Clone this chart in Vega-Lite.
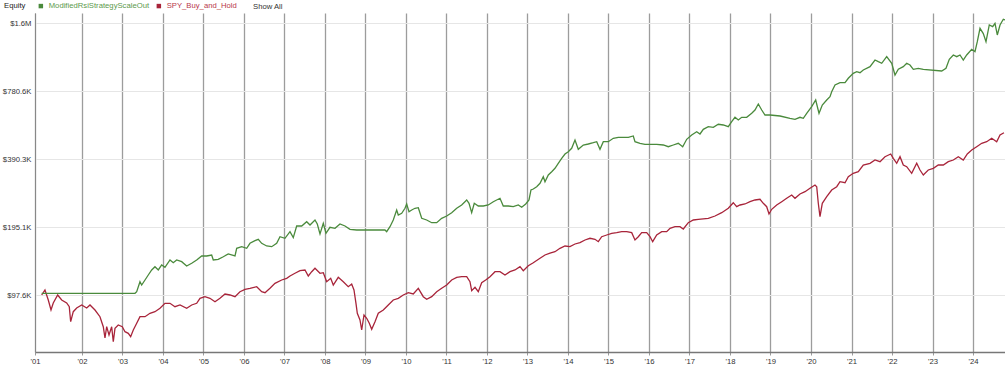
{
  "$schema": "https://vega.github.io/schema/vega-lite/v6.json",
  "width": 970,
  "height": 339,
  "autosize": {"type": "none"},
  "padding": {"left": 35, "top": 13, "right": 0, "bottom": 16},
  "background": "white",
  "config": {
    "font": "Liberation Sans",
    "view": {"stroke": null},
    "title": {"font": "Liberation Sans"},
    "legend": {"labelFont": "Liberation Sans", "titleFont": "Liberation Sans"}
  },
  "title": {
    "text": "Show All",
    "anchor": "start",
    "frame": "group",
    "dx": 218,
    "dy": 12,
    "offset": 3,
    "fontSize": 7.7,
    "fontWeight": "normal",
    "color": "#333333"
  },
  "data": {
    "values": [
      {"series": "SPY_Buy_and_Hold", "year": 2001.005, "equity": 98070},
      {"series": "SPY_Buy_and_Hold", "year": 2001.086, "equity": 103200},
      {"series": "SPY_Buy_and_Hold", "year": 2001.168, "equity": 93200},
      {"series": "SPY_Buy_and_Hold", "year": 2001.235, "equity": 84170},
      {"series": "SPY_Buy_and_Hold", "year": 2001.291, "equity": 90390},
      {"series": "SPY_Buy_and_Hold", "year": 2001.4, "equity": 98070},
      {"series": "SPY_Buy_and_Hold", "year": 2001.499, "equity": 93200},
      {"series": "SPY_Buy_and_Hold", "year": 2001.622, "equity": 90390},
      {"series": "SPY_Buy_and_Hold", "year": 2001.686, "equity": 87040},
      {"series": "SPY_Buy_and_Hold", "year": 2001.721, "equity": 74700},
      {"series": "SPY_Buy_and_Hold", "year": 2001.785, "equity": 82720},
      {"series": "SPY_Buy_and_Hold", "year": 2001.869, "equity": 85900},
      {"series": "SPY_Buy_and_Hold", "year": 2001.993, "equity": 88570},
      {"series": "SPY_Buy_and_Hold", "year": 2002.116, "equity": 85900},
      {"series": "SPY_Buy_and_Hold", "year": 2002.198, "equity": 88570},
      {"series": "SPY_Buy_and_Hold", "year": 2002.321, "equity": 84170},
      {"series": "SPY_Buy_and_Hold", "year": 2002.444, "equity": 78610},
      {"series": "SPY_Buy_and_Hold", "year": 2002.526, "equity": 70990},
      {"series": "SPY_Buy_and_Hold", "year": 2002.568, "equity": 63270},
      {"series": "SPY_Buy_and_Hold", "year": 2002.61, "equity": 70990},
      {"series": "SPY_Buy_and_Hold", "year": 2002.667, "equity": 65230},
      {"series": "SPY_Buy_and_Hold", "year": 2002.733, "equity": 70990},
      {"series": "SPY_Buy_and_Hold", "year": 2002.773, "equity": 60930},
      {"series": "SPY_Buy_and_Hold", "year": 2002.815, "equity": 69840},
      {"series": "SPY_Buy_and_Hold", "year": 2002.896, "equity": 72230},
      {"series": "SPY_Buy_and_Hold", "year": 2002.995, "equity": 70990},
      {"series": "SPY_Buy_and_Hold", "year": 2003.062, "equity": 67460},
      {"series": "SPY_Buy_and_Hold", "year": 2003.143, "equity": 66370},
      {"series": "SPY_Buy_and_Hold", "year": 2003.202, "equity": 64110},
      {"series": "SPY_Buy_and_Hold", "year": 2003.267, "equity": 68640},
      {"series": "SPY_Buy_and_Hold", "year": 2003.351, "equity": 73490},
      {"series": "SPY_Buy_and_Hold", "year": 2003.432, "equity": 78610},
      {"series": "SPY_Buy_and_Hold", "year": 2003.556, "equity": 78610},
      {"series": "SPY_Buy_and_Hold", "year": 2003.679, "equity": 81380},
      {"series": "SPY_Buy_and_Hold", "year": 2003.802, "equity": 82720},
      {"series": "SPY_Buy_and_Hold", "year": 2003.926, "equity": 85630},
      {"series": "SPY_Buy_and_Hold", "year": 2004.049, "equity": 90110},
      {"series": "SPY_Buy_and_Hold", "year": 2004.173, "equity": 90110},
      {"series": "SPY_Buy_and_Hold", "year": 2004.296, "equity": 87040},
      {"series": "SPY_Buy_and_Hold", "year": 2004.42, "equity": 88570},
      {"series": "SPY_Buy_and_Hold", "year": 2004.585, "equity": 85630},
      {"series": "SPY_Buy_and_Hold", "year": 2004.709, "equity": 88570},
      {"series": "SPY_Buy_and_Hold", "year": 2004.832, "equity": 90110},
      {"series": "SPY_Buy_and_Hold", "year": 2004.914, "equity": 94830},
      {"series": "SPY_Buy_and_Hold", "year": 2005.037, "equity": 96380},
      {"series": "SPY_Buy_and_Hold", "year": 2005.16, "equity": 94830},
      {"series": "SPY_Buy_and_Hold", "year": 2005.284, "equity": 91590},
      {"series": "SPY_Buy_and_Hold", "year": 2005.407, "equity": 94830},
      {"series": "SPY_Buy_and_Hold", "year": 2005.531, "equity": 99080},
      {"series": "SPY_Buy_and_Hold", "year": 2005.654, "equity": 98070},
      {"series": "SPY_Buy_and_Hold", "year": 2005.778, "equity": 96380},
      {"series": "SPY_Buy_and_Hold", "year": 2005.901, "equity": 101430},
      {"series": "SPY_Buy_and_Hold", "year": 2006.025, "equity": 103930},
      {"series": "SPY_Buy_and_Hold", "year": 2006.148, "equity": 105000},
      {"series": "SPY_Buy_and_Hold", "year": 2006.314, "equity": 106720},
      {"series": "SPY_Buy_and_Hold", "year": 2006.437, "equity": 101430},
      {"series": "SPY_Buy_and_Hold", "year": 2006.519, "equity": 100400},
      {"series": "SPY_Buy_and_Hold", "year": 2006.642, "equity": 105000},
      {"series": "SPY_Buy_and_Hold", "year": 2006.765, "equity": 110490},
      {"series": "SPY_Buy_and_Hold", "year": 2006.931, "equity": 114270},
      {"series": "SPY_Buy_and_Hold", "year": 2007.054, "equity": 116270},
      {"series": "SPY_Buy_and_Hold", "year": 2007.136, "equity": 119030},
      {"series": "SPY_Buy_and_Hold", "year": 2007.259, "equity": 122360},
      {"series": "SPY_Buy_and_Hold", "year": 2007.383, "equity": 125630},
      {"series": "SPY_Buy_and_Hold", "year": 2007.506, "equity": 126540},
      {"series": "SPY_Buy_and_Hold", "year": 2007.588, "equity": 119030},
      {"series": "SPY_Buy_and_Hold", "year": 2007.672, "equity": 124370},
      {"series": "SPY_Buy_and_Hold", "year": 2007.753, "equity": 128750},
      {"series": "SPY_Buy_and_Hold", "year": 2007.877, "equity": 122360},
      {"series": "SPY_Buy_and_Hold", "year": 2007.958, "equity": 123100},
      {"series": "SPY_Buy_and_Hold", "year": 2008.042, "equity": 112310},
      {"series": "SPY_Buy_and_Hold", "year": 2008.141, "equity": 116270},
      {"series": "SPY_Buy_and_Hold", "year": 2008.205, "equity": 108590},
      {"series": "SPY_Buy_and_Hold", "year": 2008.328, "equity": 117450},
      {"series": "SPY_Buy_and_Hold", "year": 2008.452, "equity": 112310},
      {"series": "SPY_Buy_and_Hold", "year": 2008.575, "equity": 106720},
      {"series": "SPY_Buy_and_Hold", "year": 2008.659, "equity": 109700},
      {"series": "SPY_Buy_and_Hold", "year": 2008.716, "equity": 103200},
      {"series": "SPY_Buy_and_Hold", "year": 2008.765, "equity": 90110},
      {"series": "SPY_Buy_and_Hold", "year": 2008.798, "equity": 81380},
      {"series": "SPY_Buy_and_Hold", "year": 2008.864, "equity": 76010},
      {"series": "SPY_Buy_and_Hold", "year": 2008.906, "equity": 68640},
      {"series": "SPY_Buy_and_Hold", "year": 2008.963, "equity": 79980},
      {"series": "SPY_Buy_and_Hold", "year": 2009.03, "equity": 77340},
      {"series": "SPY_Buy_and_Hold", "year": 2009.094, "equity": 73490},
      {"series": "SPY_Buy_and_Hold", "year": 2009.153, "equity": 69130},
      {"series": "SPY_Buy_and_Hold", "year": 2009.235, "equity": 74700},
      {"series": "SPY_Buy_and_Hold", "year": 2009.316, "equity": 81380},
      {"series": "SPY_Buy_and_Hold", "year": 2009.44, "equity": 84170},
      {"series": "SPY_Buy_and_Hold", "year": 2009.563, "equity": 88570},
      {"series": "SPY_Buy_and_Hold", "year": 2009.686, "equity": 93200},
      {"series": "SPY_Buy_and_Hold", "year": 2009.81, "equity": 94830},
      {"series": "SPY_Buy_and_Hold", "year": 2009.933, "equity": 98070},
      {"series": "SPY_Buy_and_Hold", "year": 2010.057, "equity": 100400},
      {"series": "SPY_Buy_and_Hold", "year": 2010.18, "equity": 99080},
      {"series": "SPY_Buy_and_Hold", "year": 2010.304, "equity": 105000},
      {"series": "SPY_Buy_and_Hold", "year": 2010.427, "equity": 96380},
      {"series": "SPY_Buy_and_Hold", "year": 2010.511, "equity": 93870},
      {"series": "SPY_Buy_and_Hold", "year": 2010.635, "equity": 96380},
      {"series": "SPY_Buy_and_Hold", "year": 2010.758, "equity": 101430},
      {"series": "SPY_Buy_and_Hold", "year": 2010.881, "equity": 105000},
      {"series": "SPY_Buy_and_Hold", "year": 2011.005, "equity": 108590},
      {"series": "SPY_Buy_and_Hold", "year": 2011.128, "equity": 114270},
      {"series": "SPY_Buy_and_Hold", "year": 2011.252, "equity": 117450},
      {"series": "SPY_Buy_and_Hold", "year": 2011.375, "equity": 118180},
      {"series": "SPY_Buy_and_Hold", "year": 2011.499, "equity": 118180},
      {"series": "SPY_Buy_and_Hold", "year": 2011.58, "equity": 112310},
      {"series": "SPY_Buy_and_Hold", "year": 2011.622, "equity": 102450},
      {"series": "SPY_Buy_and_Hold", "year": 2011.704, "equity": 106070},
      {"series": "SPY_Buy_and_Hold", "year": 2011.785, "equity": 101430},
      {"series": "SPY_Buy_and_Hold", "year": 2011.869, "equity": 111170},
      {"series": "SPY_Buy_and_Hold", "year": 2011.968, "equity": 114270},
      {"series": "SPY_Buy_and_Hold", "year": 2012.074, "equity": 118180},
      {"series": "SPY_Buy_and_Hold", "year": 2012.198, "equity": 124370},
      {"series": "SPY_Buy_and_Hold", "year": 2012.321, "equity": 124370},
      {"series": "SPY_Buy_and_Hold", "year": 2012.444, "equity": 120260},
      {"series": "SPY_Buy_and_Hold", "year": 2012.568, "equity": 124370},
      {"series": "SPY_Buy_and_Hold", "year": 2012.691, "equity": 126540},
      {"series": "SPY_Buy_and_Hold", "year": 2012.815, "equity": 130870},
      {"series": "SPY_Buy_and_Hold", "year": 2012.896, "equity": 125630},
      {"series": "SPY_Buy_and_Hold", "year": 2013.02, "equity": 132200},
      {"series": "SPY_Buy_and_Hold", "year": 2013.143, "equity": 136310},
      {"series": "SPY_Buy_and_Hold", "year": 2013.309, "equity": 142560},
      {"series": "SPY_Buy_and_Hold", "year": 2013.432, "equity": 147440},
      {"series": "SPY_Buy_and_Hold", "year": 2013.556, "equity": 150320},
      {"series": "SPY_Buy_and_Hold", "year": 2013.679, "equity": 152490},
      {"series": "SPY_Buy_and_Hold", "year": 2013.802, "equity": 157860},
      {"series": "SPY_Buy_and_Hold", "year": 2013.926, "equity": 161610},
      {"series": "SPY_Buy_and_Hold", "year": 2014.049, "equity": 160460},
      {"series": "SPY_Buy_and_Hold", "year": 2014.173, "equity": 164940},
      {"series": "SPY_Buy_and_Hold", "year": 2014.296, "equity": 167130},
      {"series": "SPY_Buy_and_Hold", "year": 2014.42, "equity": 171800},
      {"series": "SPY_Buy_and_Hold", "year": 2014.543, "equity": 174800},
      {"series": "SPY_Buy_and_Hold", "year": 2014.667, "equity": 173010},
      {"series": "SPY_Buy_and_Hold", "year": 2014.748, "equity": 168850},
      {"series": "SPY_Buy_and_Hold", "year": 2014.832, "equity": 177670},
      {"series": "SPY_Buy_and_Hold", "year": 2014.956, "equity": 180780},
      {"series": "SPY_Buy_and_Hold", "year": 2015.079, "equity": 183940},
      {"series": "SPY_Buy_and_Hold", "year": 2015.202, "equity": 185090},
      {"series": "SPY_Buy_and_Hold", "year": 2015.326, "equity": 186970},
      {"series": "SPY_Buy_and_Hold", "year": 2015.449, "equity": 186970},
      {"series": "SPY_Buy_and_Hold", "year": 2015.573, "equity": 185090},
      {"series": "SPY_Buy_and_Hold", "year": 2015.654, "equity": 171800},
      {"series": "SPY_Buy_and_Hold", "year": 2015.736, "equity": 177670},
      {"series": "SPY_Buy_and_Hold", "year": 2015.82, "equity": 185090},
      {"series": "SPY_Buy_and_Hold", "year": 2015.943, "equity": 185090},
      {"series": "SPY_Buy_and_Hold", "year": 2016.025, "equity": 177670},
      {"series": "SPY_Buy_and_Hold", "year": 2016.091, "equity": 168850},
      {"series": "SPY_Buy_and_Hold", "year": 2016.19, "equity": 180780},
      {"series": "SPY_Buy_and_Hold", "year": 2016.314, "equity": 186970},
      {"series": "SPY_Buy_and_Hold", "year": 2016.437, "equity": 186970},
      {"series": "SPY_Buy_and_Hold", "year": 2016.519, "equity": 193550},
      {"series": "SPY_Buy_and_Hold", "year": 2016.642, "equity": 196740},
      {"series": "SPY_Buy_and_Hold", "year": 2016.765, "equity": 196740},
      {"series": "SPY_Buy_and_Hold", "year": 2016.847, "equity": 192180},
      {"series": "SPY_Buy_and_Hold", "year": 2016.97, "equity": 204920},
      {"series": "SPY_Buy_and_Hold", "year": 2017.094, "equity": 210650},
      {"series": "SPY_Buy_and_Hold", "year": 2017.217, "equity": 212160},
      {"series": "SPY_Buy_and_Hold", "year": 2017.464, "equity": 214330},
      {"series": "SPY_Buy_and_Hold", "year": 2017.63, "equity": 219400},
      {"series": "SPY_Buy_and_Hold", "year": 2017.795, "equity": 226910},
      {"series": "SPY_Buy_and_Hold", "year": 2017.958, "equity": 237330},
      {"series": "SPY_Buy_and_Hold", "year": 2018.081, "equity": 251270},
      {"series": "SPY_Buy_and_Hold", "year": 2018.165, "equity": 241240},
      {"series": "SPY_Buy_and_Hold", "year": 2018.247, "equity": 245450},
      {"series": "SPY_Buy_and_Hold", "year": 2018.37, "equity": 247970},
      {"series": "SPY_Buy_and_Hold", "year": 2018.494, "equity": 253840},
      {"series": "SPY_Buy_and_Hold", "year": 2018.617, "equity": 258270},
      {"series": "SPY_Buy_and_Hold", "year": 2018.741, "equity": 260130},
      {"series": "SPY_Buy_and_Hold", "year": 2018.822, "equity": 249730},
      {"series": "SPY_Buy_and_Hold", "year": 2018.906, "equity": 241240},
      {"series": "SPY_Buy_and_Hold", "year": 2018.963, "equity": 223930},
      {"series": "SPY_Buy_and_Hold", "year": 2019.03, "equity": 234910},
      {"series": "SPY_Buy_and_Hold", "year": 2019.153, "equity": 245450},
      {"series": "SPY_Buy_and_Hold", "year": 2019.277, "equity": 253840},
      {"series": "SPY_Buy_and_Hold", "year": 2019.4, "equity": 262800},
      {"series": "SPY_Buy_and_Hold", "year": 2019.523, "equity": 271780},
      {"series": "SPY_Buy_and_Hold", "year": 2019.605, "equity": 262800},
      {"series": "SPY_Buy_and_Hold", "year": 2019.728, "equity": 274570},
      {"series": "SPY_Buy_and_Hold", "year": 2019.852, "equity": 281090},
      {"series": "SPY_Buy_and_Hold", "year": 2019.975, "equity": 291000},
      {"series": "SPY_Buy_and_Hold", "year": 2020.099, "equity": 300950},
      {"series": "SPY_Buy_and_Hold", "year": 2020.141, "equity": 295780},
      {"series": "SPY_Buy_and_Hold", "year": 2020.18, "equity": 249730},
      {"series": "SPY_Buy_and_Hold", "year": 2020.222, "equity": 217840},
      {"series": "SPY_Buy_and_Hold", "year": 2020.279, "equity": 249730},
      {"series": "SPY_Buy_and_Hold", "year": 2020.388, "equity": 267110},
      {"series": "SPY_Buy_and_Hold", "year": 2020.511, "equity": 286000},
      {"series": "SPY_Buy_and_Hold", "year": 2020.635, "equity": 295780},
      {"series": "SPY_Buy_and_Hold", "year": 2020.716, "equity": 311230},
      {"series": "SPY_Buy_and_Hold", "year": 2020.84, "equity": 308090},
      {"series": "SPY_Buy_and_Hold", "year": 2020.921, "equity": 327530},
      {"series": "SPY_Buy_and_Hold", "year": 2021.044, "equity": 339080},
      {"series": "SPY_Buy_and_Hold", "year": 2021.168, "equity": 344640},
      {"series": "SPY_Buy_and_Hold", "year": 2021.291, "equity": 368990},
      {"series": "SPY_Buy_and_Hold", "year": 2021.457, "equity": 375460},
      {"series": "SPY_Buy_and_Hold", "year": 2021.58, "equity": 388300},
      {"series": "SPY_Buy_and_Hold", "year": 2021.704, "equity": 381620},
      {"series": "SPY_Buy_and_Hold", "year": 2021.827, "equity": 401610},
      {"series": "SPY_Buy_and_Hold", "year": 2021.968, "equity": 412810},
      {"series": "SPY_Buy_and_Hold", "year": 2022.032, "equity": 395090},
      {"series": "SPY_Buy_and_Hold", "year": 2022.116, "equity": 375460},
      {"series": "SPY_Buy_and_Hold", "year": 2022.198, "equity": 401610},
      {"series": "SPY_Buy_and_Hold", "year": 2022.279, "equity": 368990},
      {"series": "SPY_Buy_and_Hold", "year": 2022.363, "equity": 362620},
      {"series": "SPY_Buy_and_Hold", "year": 2022.486, "equity": 339080},
      {"series": "SPY_Buy_and_Hold", "year": 2022.61, "equity": 375460},
      {"series": "SPY_Buy_and_Hold", "year": 2022.691, "equity": 350620},
      {"series": "SPY_Buy_and_Hold", "year": 2022.773, "equity": 333200},
      {"series": "SPY_Buy_and_Hold", "year": 2022.896, "equity": 350620},
      {"series": "SPY_Buy_and_Hold", "year": 2023.02, "equity": 356740},
      {"series": "SPY_Buy_and_Hold", "year": 2023.143, "equity": 368990},
      {"series": "SPY_Buy_and_Hold", "year": 2023.267, "equity": 368990},
      {"series": "SPY_Buy_and_Hold", "year": 2023.39, "equity": 381620},
      {"series": "SPY_Buy_and_Hold", "year": 2023.514, "equity": 388300},
      {"series": "SPY_Buy_and_Hold", "year": 2023.637, "equity": 401610},
      {"series": "SPY_Buy_and_Hold", "year": 2023.76, "equity": 388300},
      {"series": "SPY_Buy_and_Hold", "year": 2023.859, "equity": 412810},
      {"series": "SPY_Buy_and_Hold", "year": 2023.968, "equity": 429940},
      {"series": "SPY_Buy_and_Hold", "year": 2024.091, "equity": 444700},
      {"series": "SPY_Buy_and_Hold", "year": 2024.215, "equity": 460350},
      {"series": "SPY_Buy_and_Hold", "year": 2024.338, "equity": 467950},
      {"series": "SPY_Buy_and_Hold", "year": 2024.462, "equity": 484430},
      {"series": "SPY_Buy_and_Hold", "year": 2024.585, "equity": 467950},
      {"series": "SPY_Buy_and_Hold", "year": 2024.667, "equity": 501020},
      {"series": "SPY_Buy_and_Hold", "year": 2024.765, "equity": 512880},

      {"series": "ModifiedRsiStrategyScaleOut", "year": 2001.005, "equity": 99790},
      {"series": "ModifiedRsiStrategyScaleOut", "year": 2003.309, "equity": 99790},
      {"series": "ModifiedRsiStrategyScaleOut", "year": 2003.351, "equity": 101430},
      {"series": "ModifiedRsiStrategyScaleOut", "year": 2003.432, "equity": 112310},
      {"series": "ModifiedRsiStrategyScaleOut", "year": 2003.474, "equity": 108590},
      {"series": "ModifiedRsiStrategyScaleOut", "year": 2003.556, "equity": 114270},
      {"series": "ModifiedRsiStrategyScaleOut", "year": 2003.637, "equity": 120260},
      {"series": "ModifiedRsiStrategyScaleOut", "year": 2003.721, "equity": 126540},
      {"series": "ModifiedRsiStrategyScaleOut", "year": 2003.802, "equity": 130870},
      {"series": "ModifiedRsiStrategyScaleOut", "year": 2003.884, "equity": 126540},
      {"series": "ModifiedRsiStrategyScaleOut", "year": 2003.968, "equity": 133150},
      {"series": "ModifiedRsiStrategyScaleOut", "year": 2004.049, "equity": 130060},
      {"series": "ModifiedRsiStrategyScaleOut", "year": 2004.173, "equity": 140110},
      {"series": "ModifiedRsiStrategyScaleOut", "year": 2004.254, "equity": 136310},
      {"series": "ModifiedRsiStrategyScaleOut", "year": 2004.338, "equity": 140110},
      {"series": "ModifiedRsiStrategyScaleOut", "year": 2004.462, "equity": 137700},
      {"series": "ModifiedRsiStrategyScaleOut", "year": 2004.585, "equity": 131800},
      {"series": "ModifiedRsiStrategyScaleOut", "year": 2004.709, "equity": 135480},
      {"series": "ModifiedRsiStrategyScaleOut", "year": 2004.832, "equity": 140110},
      {"series": "ModifiedRsiStrategyScaleOut", "year": 2004.956, "equity": 145940},
      {"series": "ModifiedRsiStrategyScaleOut", "year": 2005.079, "equity": 145940},
      {"series": "ModifiedRsiStrategyScaleOut", "year": 2005.202, "equity": 147440},
      {"series": "ModifiedRsiStrategyScaleOut", "year": 2005.242, "equity": 140110},
      {"series": "ModifiedRsiStrategyScaleOut", "year": 2005.365, "equity": 141120},
      {"series": "ModifiedRsiStrategyScaleOut", "year": 2005.489, "equity": 144890},
      {"series": "ModifiedRsiStrategyScaleOut", "year": 2005.612, "equity": 148950},
      {"series": "ModifiedRsiStrategyScaleOut", "year": 2005.778, "equity": 145940},
      {"series": "ModifiedRsiStrategyScaleOut", "year": 2005.82, "equity": 157860},
      {"series": "ModifiedRsiStrategyScaleOut", "year": 2005.943, "equity": 160460},
      {"series": "ModifiedRsiStrategyScaleOut", "year": 2006.067, "equity": 157860},
      {"series": "ModifiedRsiStrategyScaleOut", "year": 2006.148, "equity": 166110},
      {"series": "ModifiedRsiStrategyScaleOut", "year": 2006.272, "equity": 170580},
      {"series": "ModifiedRsiStrategyScaleOut", "year": 2006.353, "equity": 173010},
      {"series": "ModifiedRsiStrategyScaleOut", "year": 2006.437, "equity": 166110},
      {"series": "ModifiedRsiStrategyScaleOut", "year": 2006.56, "equity": 161610},
      {"series": "ModifiedRsiStrategyScaleOut", "year": 2006.684, "equity": 160460},
      {"series": "ModifiedRsiStrategyScaleOut", "year": 2006.807, "equity": 166110},
      {"series": "ModifiedRsiStrategyScaleOut", "year": 2006.889, "equity": 177670},
      {"series": "ModifiedRsiStrategyScaleOut", "year": 2007.012, "equity": 174800},
      {"series": "ModifiedRsiStrategyScaleOut", "year": 2007.136, "equity": 186970},
      {"series": "ModifiedRsiStrategyScaleOut", "year": 2007.217, "equity": 176070},
      {"series": "ModifiedRsiStrategyScaleOut", "year": 2007.301, "equity": 198150},
      {"series": "ModifiedRsiStrategyScaleOut", "year": 2007.425, "equity": 198150},
      {"series": "ModifiedRsiStrategyScaleOut", "year": 2007.548, "equity": 207020},
      {"series": "ModifiedRsiStrategyScaleOut", "year": 2007.63, "equity": 200180},
      {"series": "ModifiedRsiStrategyScaleOut", "year": 2007.753, "equity": 210650},
      {"series": "ModifiedRsiStrategyScaleOut", "year": 2007.81, "equity": 202230},
      {"series": "ModifiedRsiStrategyScaleOut", "year": 2007.877, "equity": 182620},
      {"series": "ModifiedRsiStrategyScaleOut", "year": 2007.958, "equity": 203670},
      {"series": "ModifiedRsiStrategyScaleOut", "year": 2008.025, "equity": 183940},
      {"series": "ModifiedRsiStrategyScaleOut", "year": 2008.123, "equity": 195540},
      {"series": "ModifiedRsiStrategyScaleOut", "year": 2008.247, "equity": 193550},
      {"series": "ModifiedRsiStrategyScaleOut", "year": 2008.37, "equity": 202230},
      {"series": "ModifiedRsiStrategyScaleOut", "year": 2008.494, "equity": 198150},
      {"series": "ModifiedRsiStrategyScaleOut", "year": 2008.617, "equity": 191590},
      {"series": "ModifiedRsiStrategyScaleOut", "year": 2008.783, "equity": 190230},
      {"series": "ModifiedRsiStrategyScaleOut", "year": 2009.481, "equity": 190230},
      {"series": "ModifiedRsiStrategyScaleOut", "year": 2009.523, "equity": 186970},
      {"series": "ModifiedRsiStrategyScaleOut", "year": 2009.605, "equity": 196740},
      {"series": "ModifiedRsiStrategyScaleOut", "year": 2009.686, "equity": 210650},
      {"series": "ModifiedRsiStrategyScaleOut", "year": 2009.77, "equity": 233250},
      {"series": "ModifiedRsiStrategyScaleOut", "year": 2009.81, "equity": 221650},
      {"series": "ModifiedRsiStrategyScaleOut", "year": 2009.894, "equity": 225530},
      {"series": "ModifiedRsiStrategyScaleOut", "year": 2009.975, "equity": 237330},
      {"series": "ModifiedRsiStrategyScaleOut", "year": 2010.017, "equity": 247970},
      {"series": "ModifiedRsiStrategyScaleOut", "year": 2010.074, "equity": 229240},
      {"series": "ModifiedRsiStrategyScaleOut", "year": 2010.141, "equity": 233250},
      {"series": "ModifiedRsiStrategyScaleOut", "year": 2010.222, "equity": 237330},
      {"series": "ModifiedRsiStrategyScaleOut", "year": 2010.304, "equity": 238800},
      {"series": "ModifiedRsiStrategyScaleOut", "year": 2010.388, "equity": 214330},
      {"series": "ModifiedRsiStrategyScaleOut", "year": 2010.511, "equity": 210650},
      {"series": "ModifiedRsiStrategyScaleOut", "year": 2010.635, "equity": 204920},
      {"series": "ModifiedRsiStrategyScaleOut", "year": 2010.758, "equity": 204920},
      {"series": "ModifiedRsiStrategyScaleOut", "year": 2010.881, "equity": 214330},
      {"series": "ModifiedRsiStrategyScaleOut", "year": 2011.005, "equity": 219400},
      {"series": "ModifiedRsiStrategyScaleOut", "year": 2011.128, "equity": 226910},
      {"series": "ModifiedRsiStrategyScaleOut", "year": 2011.252, "equity": 237330},
      {"series": "ModifiedRsiStrategyScaleOut", "year": 2011.375, "equity": 245450},
      {"series": "ModifiedRsiStrategyScaleOut", "year": 2011.499, "equity": 258270},
      {"series": "ModifiedRsiStrategyScaleOut", "year": 2011.556, "equity": 249730},
      {"series": "ModifiedRsiStrategyScaleOut", "year": 2011.622, "equity": 226910},
      {"series": "ModifiedRsiStrategyScaleOut", "year": 2011.686, "equity": 249730},
      {"series": "ModifiedRsiStrategyScaleOut", "year": 2011.785, "equity": 242950},
      {"series": "ModifiedRsiStrategyScaleOut", "year": 2011.909, "equity": 242950},
      {"series": "ModifiedRsiStrategyScaleOut", "year": 2012.032, "equity": 245450},
      {"series": "ModifiedRsiStrategyScaleOut", "year": 2012.156, "equity": 253840},
      {"series": "ModifiedRsiStrategyScaleOut", "year": 2012.321, "equity": 262800},
      {"series": "ModifiedRsiStrategyScaleOut", "year": 2012.402, "equity": 242950},
      {"series": "ModifiedRsiStrategyScaleOut", "year": 2012.526, "equity": 242950},
      {"series": "ModifiedRsiStrategyScaleOut", "year": 2012.649, "equity": 241240},
      {"series": "ModifiedRsiStrategyScaleOut", "year": 2012.773, "equity": 245450},
      {"series": "ModifiedRsiStrategyScaleOut", "year": 2012.857, "equity": 239760},
      {"series": "ModifiedRsiStrategyScaleOut", "year": 2012.956, "equity": 247970},
      {"series": "ModifiedRsiStrategyScaleOut", "year": 2013.037, "equity": 258270},
      {"series": "ModifiedRsiStrategyScaleOut", "year": 2013.086, "equity": 286000},
      {"series": "ModifiedRsiStrategyScaleOut", "year": 2013.143, "equity": 288930},
      {"series": "ModifiedRsiStrategyScaleOut", "year": 2013.227, "equity": 295780},
      {"series": "ModifiedRsiStrategyScaleOut", "year": 2013.309, "equity": 306220},
      {"series": "ModifiedRsiStrategyScaleOut", "year": 2013.39, "equity": 327530},
      {"series": "ModifiedRsiStrategyScaleOut", "year": 2013.432, "equity": 311230},
      {"series": "ModifiedRsiStrategyScaleOut", "year": 2013.514, "equity": 333200},
      {"series": "ModifiedRsiStrategyScaleOut", "year": 2013.598, "equity": 344640},
      {"series": "ModifiedRsiStrategyScaleOut", "year": 2013.679, "equity": 356740},
      {"series": "ModifiedRsiStrategyScaleOut", "year": 2013.76, "equity": 375460},
      {"series": "ModifiedRsiStrategyScaleOut", "year": 2013.844, "equity": 395090},
      {"series": "ModifiedRsiStrategyScaleOut", "year": 2013.926, "equity": 412810},
      {"series": "ModifiedRsiStrategyScaleOut", "year": 2014.007, "equity": 422600},
      {"series": "ModifiedRsiStrategyScaleOut", "year": 2014.091, "equity": 437480},
      {"series": "ModifiedRsiStrategyScaleOut", "year": 2014.173, "equity": 476110},
      {"series": "ModifiedRsiStrategyScaleOut", "year": 2014.254, "equity": 433060},
      {"series": "ModifiedRsiStrategyScaleOut", "year": 2014.378, "equity": 452420},
      {"series": "ModifiedRsiStrategyScaleOut", "year": 2014.501, "equity": 457070},
      {"series": "ModifiedRsiStrategyScaleOut", "year": 2014.625, "equity": 463190},
      {"series": "ModifiedRsiStrategyScaleOut", "year": 2014.709, "equity": 467950},
      {"series": "ModifiedRsiStrategyScaleOut", "year": 2014.79, "equity": 433060},
      {"series": "ModifiedRsiStrategyScaleOut", "year": 2014.872, "equity": 467950},
      {"series": "ModifiedRsiStrategyScaleOut", "year": 2014.995, "equity": 467950},
      {"series": "ModifiedRsiStrategyScaleOut", "year": 2015.119, "equity": 484430},
      {"series": "ModifiedRsiStrategyScaleOut", "year": 2015.242, "equity": 489420},
      {"series": "ModifiedRsiStrategyScaleOut", "year": 2015.365, "equity": 489420},
      {"series": "ModifiedRsiStrategyScaleOut", "year": 2015.489, "equity": 489420},
      {"series": "ModifiedRsiStrategyScaleOut", "year": 2015.612, "equity": 495940},
      {"series": "ModifiedRsiStrategyScaleOut", "year": 2015.654, "equity": 467950},
      {"series": "ModifiedRsiStrategyScaleOut", "year": 2015.778, "equity": 460350},
      {"series": "ModifiedRsiStrategyScaleOut", "year": 2015.901, "equity": 455660},
      {"series": "ModifiedRsiStrategyScaleOut", "year": 2016.19, "equity": 455660},
      {"series": "ModifiedRsiStrategyScaleOut", "year": 2016.353, "equity": 452420},
      {"series": "ModifiedRsiStrategyScaleOut", "year": 2016.477, "equity": 444700},
      {"series": "ModifiedRsiStrategyScaleOut", "year": 2016.6, "equity": 452420},
      {"series": "ModifiedRsiStrategyScaleOut", "year": 2016.723, "equity": 460350},
      {"series": "ModifiedRsiStrategyScaleOut", "year": 2016.832, "equity": 444700},
      {"series": "ModifiedRsiStrategyScaleOut", "year": 2016.931, "equity": 479510},
      {"series": "ModifiedRsiStrategyScaleOut", "year": 2017.054, "equity": 501020},
      {"series": "ModifiedRsiStrategyScaleOut", "year": 2017.178, "equity": 518150},
      {"series": "ModifiedRsiStrategyScaleOut", "year": 2017.259, "equity": 506160},
      {"series": "ModifiedRsiStrategyScaleOut", "year": 2017.341, "equity": 530950},
      {"series": "ModifiedRsiStrategyScaleOut", "year": 2017.464, "equity": 545230},
      {"series": "ModifiedRsiStrategyScaleOut", "year": 2017.588, "equity": 541910},
      {"series": "ModifiedRsiStrategyScaleOut", "year": 2017.711, "equity": 558740},
      {"series": "ModifiedRsiStrategyScaleOut", "year": 2017.835, "equity": 554760},
      {"series": "ModifiedRsiStrategyScaleOut", "year": 2017.958, "equity": 545230},
      {"series": "ModifiedRsiStrategyScaleOut", "year": 2018.042, "equity": 573760},
      {"series": "ModifiedRsiStrategyScaleOut", "year": 2018.123, "equity": 600070},
      {"series": "ModifiedRsiStrategyScaleOut", "year": 2018.205, "equity": 583750},
      {"series": "ModifiedRsiStrategyScaleOut", "year": 2018.289, "equity": 600070},
      {"series": "ModifiedRsiStrategyScaleOut", "year": 2018.412, "equity": 600070},
      {"series": "ModifiedRsiStrategyScaleOut", "year": 2018.536, "equity": 625010},
      {"series": "ModifiedRsiStrategyScaleOut", "year": 2018.617, "equity": 646440},
      {"series": "ModifiedRsiStrategyScaleOut", "year": 2018.699, "equity": 687190},
      {"series": "ModifiedRsiStrategyScaleOut", "year": 2018.783, "equity": 646440},
      {"series": "ModifiedRsiStrategyScaleOut", "year": 2018.864, "equity": 614340},
      {"series": "ModifiedRsiStrategyScaleOut", "year": 2018.988, "equity": 614340},
      {"series": "ModifiedRsiStrategyScaleOut", "year": 2019.235, "equity": 608070},
      {"series": "ModifiedRsiStrategyScaleOut", "year": 2019.481, "equity": 593980},
      {"series": "ModifiedRsiStrategyScaleOut", "year": 2019.605, "equity": 587940},
      {"series": "ModifiedRsiStrategyScaleOut", "year": 2019.728, "equity": 600070},
      {"series": "ModifiedRsiStrategyScaleOut", "year": 2019.81, "equity": 593980},
      {"series": "ModifiedRsiStrategyScaleOut", "year": 2019.894, "equity": 625010},
      {"series": "ModifiedRsiStrategyScaleOut", "year": 2020.017, "equity": 668560},
      {"series": "ModifiedRsiStrategyScaleOut", "year": 2020.116, "equity": 715870},
      {"series": "ModifiedRsiStrategyScaleOut", "year": 2020.198, "equity": 625010},
      {"series": "ModifiedRsiStrategyScaleOut", "year": 2020.279, "equity": 680150},
      {"series": "ModifiedRsiStrategyScaleOut", "year": 2020.388, "equity": 715870},
      {"series": "ModifiedRsiStrategyScaleOut", "year": 2020.469, "equity": 740370},
      {"series": "ModifiedRsiStrategyScaleOut", "year": 2020.511, "equity": 779060},
      {"series": "ModifiedRsiStrategyScaleOut", "year": 2020.593, "equity": 834050},
      {"series": "ModifiedRsiStrategyScaleOut", "year": 2020.716, "equity": 853800},
      {"series": "ModifiedRsiStrategyScaleOut", "year": 2020.84, "equity": 853800},
      {"series": "ModifiedRsiStrategyScaleOut", "year": 2020.921, "equity": 892980},
      {"series": "ModifiedRsiStrategyScaleOut", "year": 2021.044, "equity": 939580},
      {"series": "ModifiedRsiStrategyScaleOut", "year": 2021.128, "equity": 955190},
      {"series": "ModifiedRsiStrategyScaleOut", "year": 2021.21, "equity": 945430},
      {"series": "ModifiedRsiStrategyScaleOut", "year": 2021.291, "equity": 971820},
      {"series": "ModifiedRsiStrategyScaleOut", "year": 2021.457, "equity": 1005070},
      {"series": "ModifiedRsiStrategyScaleOut", "year": 2021.58, "equity": 1076020},
      {"series": "ModifiedRsiStrategyScaleOut", "year": 2021.662, "equity": 1057610},
      {"series": "ModifiedRsiStrategyScaleOut", "year": 2021.746, "equity": 1040510},
      {"series": "ModifiedRsiStrategyScaleOut", "year": 2021.869, "equity": 1112870},
      {"series": "ModifiedRsiStrategyScaleOut", "year": 2021.993, "equity": 1040510},
      {"series": "ModifiedRsiStrategyScaleOut", "year": 2022.074, "equity": 923500},
      {"series": "ModifiedRsiStrategyScaleOut", "year": 2022.156, "equity": 978840},
      {"series": "ModifiedRsiStrategyScaleOut", "year": 2022.279, "equity": 1005070},
      {"series": "ModifiedRsiStrategyScaleOut", "year": 2022.363, "equity": 1040510},
      {"series": "ModifiedRsiStrategyScaleOut", "year": 2022.444, "equity": 1022630},
      {"series": "ModifiedRsiStrategyScaleOut", "year": 2022.526, "equity": 978840},
      {"series": "ModifiedRsiStrategyScaleOut", "year": 2022.649, "equity": 988830},
      {"series": "ModifiedRsiStrategyScaleOut", "year": 2022.773, "equity": 978840},
      {"series": "ModifiedRsiStrategyScaleOut", "year": 2023.227, "equity": 962060},
      {"series": "ModifiedRsiStrategyScaleOut", "year": 2023.333, "equity": 988830},
      {"series": "ModifiedRsiStrategyScaleOut", "year": 2023.415, "equity": 1083840},
      {"series": "ModifiedRsiStrategyScaleOut", "year": 2023.514, "equity": 1132520},
      {"series": "ModifiedRsiStrategyScaleOut", "year": 2023.598, "equity": 1112870},
      {"series": "ModifiedRsiStrategyScaleOut", "year": 2023.679, "equity": 1132520},
      {"series": "ModifiedRsiStrategyScaleOut", "year": 2023.76, "equity": 1076020},
      {"series": "ModifiedRsiStrategyScaleOut", "year": 2023.844, "equity": 1132520},
      {"series": "ModifiedRsiStrategyScaleOut", "year": 2023.968, "equity": 1200130},
      {"series": "ModifiedRsiStrategyScaleOut", "year": 2024.049, "equity": 1171180},
      {"series": "ModifiedRsiStrategyScaleOut", "year": 2024.106, "equity": 1296770},
      {"series": "ModifiedRsiStrategyScaleOut", "year": 2024.173, "equity": 1486520},
      {"series": "ModifiedRsiStrategyScaleOut", "year": 2024.254, "equity": 1408550},
      {"series": "ModifiedRsiStrategyScaleOut", "year": 2024.321, "equity": 1296770},
      {"series": "ModifiedRsiStrategyScaleOut", "year": 2024.402, "equity": 1537430},
      {"series": "ModifiedRsiStrategyScaleOut", "year": 2024.486, "equity": 1511010},
      {"series": "ModifiedRsiStrategyScaleOut", "year": 2024.543, "equity": 1564300},
      {"series": "ModifiedRsiStrategyScaleOut", "year": 2024.6, "equity": 1388410},
      {"series": "ModifiedRsiStrategyScaleOut", "year": 2024.667, "equity": 1537430},
      {"series": "ModifiedRsiStrategyScaleOut", "year": 2024.748, "equity": 1629370},
      {"series": "ModifiedRsiStrategyScaleOut", "year": 2024.79, "equity": 1617820}
    ]
  },
  "mark": {"type": "line", "strokeWidth": 1.3, "clip": true},
  "encoding": {
    "x": {
      "field": "year",
      "type": "quantitative",
      "scale": {"domain": [2000.84, 2024.79], "nice": false, "zero": false},
      "axis": {
        "title": null,
        "values": [2000.84, 2002, 2003, 2004, 2005, 2006, 2007, 2008, 2009, 2010, 2011, 2012, 2013, 2014, 2015, 2016, 2017, 2018, 2019, 2020, 2021, 2022, 2023, 2024],
        "labelExpr": "datum.value < 2001 ? \"'01\" : \"'\" + format(datum.value % 100, '02d')",
        "grid": true,
        "gridColor": "#9c9c9c",
        "gridWidth": 1.3,
        "gridOpacity": 1,
        "domainColor": "#777777",
        "domainWidth": 1.3,
        "tickColor": "#9c9c9c",
        "tickSize": 3,
        "labelPadding": 2,
        "labelFontSize": 7.7,
        "labelColor": "#333333",
        "labelFont": "Liberation Sans",
        "labelFlush": false
      }
    },
    "y": {
      "field": "equity",
      "type": "quantitative",
      "scale": {"type": "log", "base": 2, "domain": [54850, 1737400], "nice": false, "zero": false},
      "axis": {
        "title": null,
        "values": [97572, 195144, 390288, 780576, 1561152],
        "labelExpr": "datum.value < 1000000 ? '$' + format(datum.value / 1000, '.1f') + 'K' : '$' + format(datum.value / 1000000, '.1f') + 'M'",
        "grid": true,
        "gridColor": "#e6e6e6",
        "gridWidth": 1,
        "domainColor": "#888888",
        "domainWidth": 1,
        "ticks": false,
        "labelPadding": 4,
        "labelFontSize": 7.7,
        "labelColor": "#333333",
        "labelFont": "Liberation Sans"
      }
    },
    "color": {
      "field": "series",
      "type": "nominal",
      "scale": {
        "domain": ["ModifiedRsiStrategyScaleOut", "SPY_Buy_and_Hold"],
        "range": ["#4a8a3c", "#a8243a"]
      },
      "legend": {
        "title": "Equity",
        "orient": "none",
        "legendX": -31,
        "legendY": -11,
        "direction": "horizontal",
        "titleOrient": "left",
        "titlePadding": 11,
        "titleFontSize": 7.7,
        "titleFontWeight": "normal",
        "titleColor": "#222222",
        "labelFontSize": 7.7,
        "symbolType": "square",
        "symbolSize": 20,
        "symbolStrokeWidth": 0,
        "labelOffset": 4,
        "columnPadding": 5,
        "encode": {
          "symbols": {"update": {
            "fill": {"signal": "datum.value === 'SPY_Buy_and_Hold' ? '#a8243a' : '#4a8a3c'"},
            "opacity": {"value": 1}
          }},
          "labels": {"update": {
            "fill": {"signal": "datum.value === 'SPY_Buy_and_Hold' ? '#b8384a' : '#5c9a4c'"}
          }}
        }
      }
    }
  }
}
